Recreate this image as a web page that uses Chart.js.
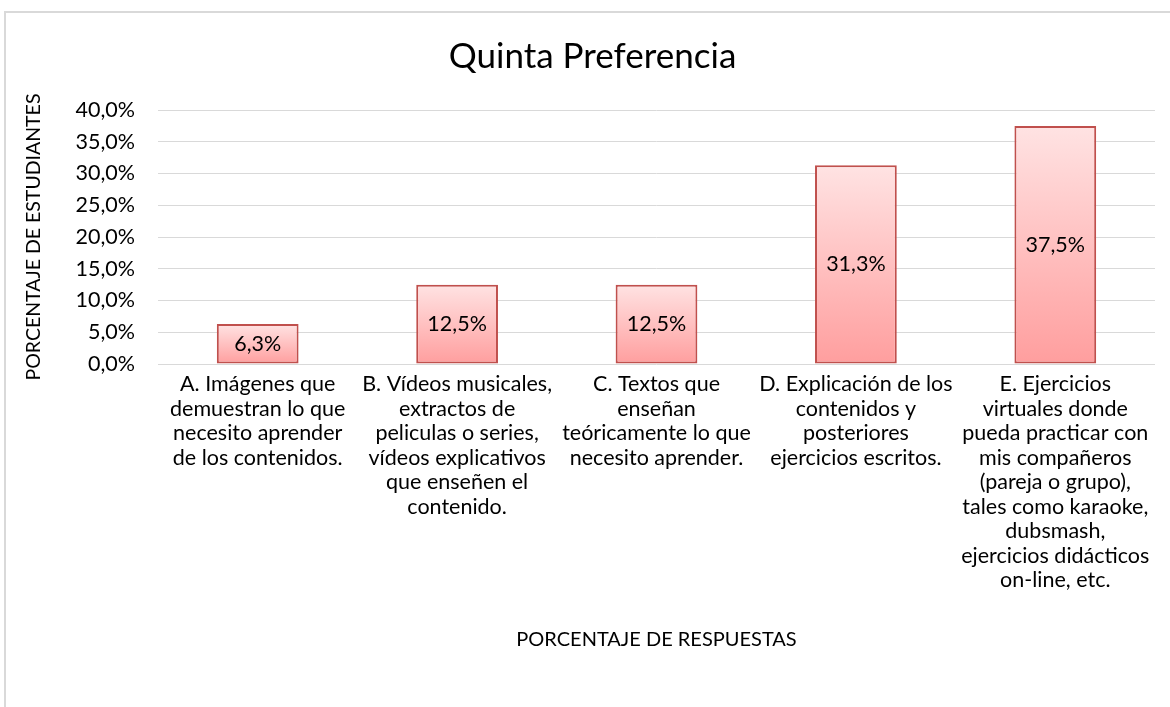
<!DOCTYPE html>
<html>
<head>
<meta charset="utf-8">
<script src="https://cdn.jsdelivr.net/npm/chart.js@4.4.1/dist/chart.umd.min.js"></script>
<style>
  html, body { margin: 0; padding: 0; background: #fff; }
  canvas { display: block; }
</style>
</head>
<body>
<canvas id="chart" width="1170" height="707"></canvas>
<script>
// Datos
const categorias = [
    ['A. Imágenes que', 'demuestran lo que', 'necesito aprender', 'de los contenidos.'],
    ['B. Vídeos musicales,', 'extractos de', 'peliculas o series,', 'vídeos explicativos', 'que enseñen el', 'contenido.'],
    ['C. Textos que', 'enseñan', 'teóricamente lo que', 'necesito aprender.'],
    ['D. Explicación de los', 'contenidos y', 'posteriores', 'ejercicios escritos.'],
    ['E. Ejercicios', 'virtuales donde', 'pueda practicar con', 'mis compañeros', '(pareja o grupo),', 'tales como karaoke,', 'dubsmash,', 'ejercicios didácticos', 'on-line, etc.']
];
const porcentajes = [6.3, 12.5, 12.5, 31.3, 37.5];
const yMax = 40;
const yPaso = 5;

const FONT = 'Lato, "Open Sans", sans-serif';

function formatoPct(v) {
    return v.toFixed(1).replace('.', ',') + '%';
}

// Marco exterior del grafico
const marco = {
    id: 'marco',
    beforeDraw(chart) {
        const c = chart.ctx;
        c.save();
        c.fillStyle = '#fff';
        c.fillRect(0, 0, chart.width, chart.height);
        c.strokeStyle = '#d9d9d9';
        c.lineWidth = 2;
        c.strokeRect(5, 12, chart.width + 50, chart.height + 50);
        c.restore();
    },
    // el titulo va centrado sobre el marco completo, no sobre el area de layout
    afterLayout(chart) {
        const t = chart.titleBlock;
        if (t) { t.left += 15; t.right += 15; }
    }
};

// Etiquetas de valor dentro de las barras
const etiquetas = {
    id: 'etiquetas',
    afterDatasetsDraw(chart) {
        const c = chart.ctx;
        const meta = chart.getDatasetMeta(0);
        c.save();
        c.font = '21.5px ' + FONT;
        c.fillStyle = '#000';
        c.textAlign = 'center';
        c.textBaseline = 'middle';
        meta.data.forEach((bar, i) => {
            const yc = (bar.y + bar.base) / 2;
            c.fillText(formatoPct(porcentajes[i]), bar.x, yc);
        });
        c.restore();
    }
};

const ctx = document.getElementById('chart').getContext('2d');
new Chart(ctx, {
    type: 'bar',
    data: {
        labels: categorias,
        datasets: [{
            data: porcentajes,
            backgroundColor: (context) => {
                const chart = context.chart;
                if (context.type !== 'data' || !chart.chartArea) return '#ffb3b3';
                const y = chart.scales.y;
                const top = y.getPixelForValue(context.raw);
                const base = y.getPixelForValue(0);
                const g = chart.ctx.createLinearGradient(0, top, 0, base);
                g.addColorStop(0, '#ffe3e3');
                g.addColorStop(1, '#ff9e9e');
                return g;
            },
            borderColor: '#c0504d',
            borderWidth: 2,
            borderSkipped: false,
            categoryPercentage: 1,
            barPercentage: 0.41
        }]
    },
    options: {
        responsive: false,
        animation: false,
        layout: { padding: { left: 0, right: 15, top: 0, bottom: 0 } },
        plugins: {
            legend: { display: false },
            tooltip: { enabled: false },
            title: {
                display: true,
                text: 'Quinta Preferencia',
                color: '#000',
                font: { family: FONT, size: 35, weight: 'normal', lineHeight: 1.2 },
                padding: { top: 36, bottom: 32 }
            }
        },
        scales: {
            x: {
                grid: { display: false, drawTicks: false, tickLength: 0 },
                border: { display: false },
                ticks: {
                    color: '#000',
                    font: { family: FONT, size: 21.5, lineHeight: 1.14 },
                    padding: 8,
                    maxRotation: 0,
                    autoSkip: false
                },
                title: {
                    display: true,
                    text: 'PORCENTAJE DE RESPUESTAS',
                    color: '#000',
                    font: { family: FONT, size: 20, lineHeight: 1.2 },
                    padding: { top: 0, bottom: 55 }
                },
                afterFit(scale) { scale.height = 343; }
            },
            y: {
                min: 0,
                max: yMax,
                grid: { color: '#d9d9d9', lineWidth: 1, drawTicks: false, tickLength: 0 },
                border: { display: false },
                ticks: {
                    stepSize: yPaso,
                    color: '#000',
                    font: { family: FONT, size: 21.5 },
                    padding: 23,
                    callback: (v) => formatoPct(v)
                },
                title: {
                    display: true,
                    text: 'PORCENTAJE DE ESTUDIANTES',
                    color: '#000',
                    font: { family: FONT, size: 19.5, lineHeight: 1.2 },
                    padding: { top: 22, bottom: 0 }
                },
                afterFit(scale) { scale.width = 158; }
            }
        }
    },
    plugins: [marco, etiquetas]
});
</script>
</body>
</html>
